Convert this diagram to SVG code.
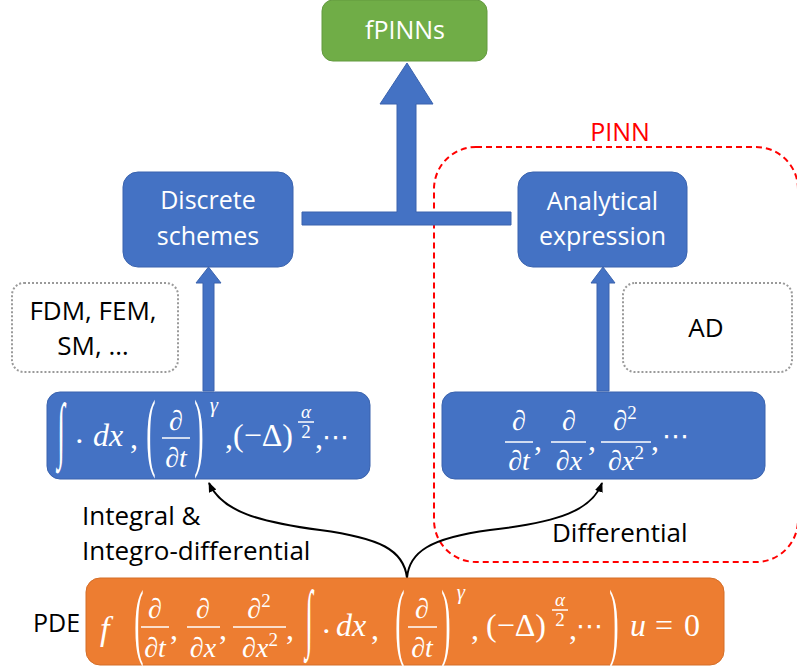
<svg xmlns="http://www.w3.org/2000/svg" width="797" height="671" viewBox="0 0 797 671">
<defs>
<style>
.blue{fill:#4472C4;stroke:#3A63AE;stroke-width:1}
.lbl{font-family:"Open Sans","Liberation Sans",sans-serif;font-size:25px;fill:#fff;text-anchor:middle}
.blk{font-family:"Open Sans","Liberation Sans",sans-serif;font-size:26px;fill:#000}
.dot{fill:#fff;stroke:#9A9A9A;stroke-width:2;stroke-dasharray:2 2}
.m{font-family:"Liberation Serif","DejaVu Serif",serif;fill:#fff;font-size:32px}
.mf{font-family:"Liberation Serif","DejaVu Serif",serif;fill:#fff;font-size:28px;text-anchor:middle}
.ms{font-family:"Liberation Serif","DejaVu Serif",serif;fill:#fff;font-size:19px;text-anchor:middle}
.el{font-family:"DejaVu Sans",sans-serif;fill:#fff;font-size:27px}
.i{font-style:italic}
.fl{stroke:#fff;stroke-width:1.5}
.cur{fill:none;stroke:#000;stroke-width:2}
</style>
<marker id="ah" viewBox="0 0 10 10" refX="9" refY="5" markerWidth="10" markerHeight="10" markerUnits="userSpaceOnUse" orient="auto">
<path d="M0,1 L10,5 L0,9 Z" fill="#000"/>
</marker>
</defs>
<rect width="797" height="671" fill="#fff"/>

<g id="pinn-region">
<rect x="434" y="147" width="364" height="415" rx="42" fill="none" stroke="#FF0000" stroke-width="2" stroke-dasharray="6 4"/>
<text x="620" y="141" class="blk" style="fill:#FF0000;font-size:25px;text-anchor:middle">PINN</text>
</g>

<g id="connectors">
<polygon class="blue" points="302,212 397,212 397,104 380,104 407,63 433,104 416,104 416,212 511,212 511,225 302,225"/>
<polygon class="blue" points="203,391 203,283 196,283 208.5,267 221,283 214,283 214,391"/>
<polygon class="blue" points="597,391 597,283 591,283 603,267 615,283 609,283 609,391"/>
<path class="cur" d="M407,578 C404,550 380,538 320,530 C260,522 222,512 209,483" marker-end="url(#ah)"/>
<path class="cur" d="M407,578 C409,552 430,538 490,530 C560,522 592,510 602,483" marker-end="url(#ah)"/>
</g>

<g id="fpinns">
<rect x="322" y="0" width="165" height="61" rx="11" fill="#70AD47" stroke="#639A3F" stroke-width="1"/>
<text x="405" y="39" class="lbl">fPINNs</text>
</g>

<g id="discrete">
<rect class="blue" x="123" y="172" width="170" height="95" rx="15"/>
<text x="208" y="209" class="lbl">Discrete</text>
<text x="208" y="245" class="lbl">schemes</text>
</g>

<g id="analytical">
<rect class="blue" x="518" y="172" width="169" height="95" rx="15"/>
<text x="602.5" y="210" class="lbl">Analytical</text>
<text x="602.5" y="245" class="lbl">expression</text>
</g>

<g id="methods">
<rect class="dot" x="12" y="283" width="166" height="89" rx="12"/>
<text x="93" y="320" class="blk" text-anchor="middle">FDM, FEM,</text>
<text x="93" y="355" class="blk" text-anchor="middle">SM, …</text>
</g>

<g id="ad">
<rect class="dot" x="623" y="283" width="169" height="89" rx="12"/>
<text x="706" y="337" class="blk" text-anchor="middle">AD</text>
</g>

<g id="nonlocal-ops">
<rect class="blue" x="47" y="392" width="323" height="87" rx="13"/>
<text class="m" transform="translate(61,454) scale(1,2.6)" text-anchor="middle" style="font-size:28px">∫</text>
<text class="m" x="74" y="452">·</text>
<text class="m i" x="93" y="446">dx</text>
<text class="m" x="130" y="448">,</text>
<text class="m" transform="translate(151,460) scale(1,3.1)" text-anchor="middle" style="font-size:28px">(</text>
<text class="mf" x="176" y="430">∂</text>
<line class="fl" x1="162" y1="438" x2="190" y2="438"/>
<text class="mf" x="176" y="467">∂<tspan class="i">t</tspan></text>
<text class="m" transform="translate(199,460) scale(1,3.1)" text-anchor="middle" style="font-size:28px">)</text>
<text class="ms i" x="214" y="412" style="font-size:21px">γ</text>
<text class="m" x="225" y="448">,</text>
<text class="m" x="233" y="446">(−Δ)</text>
<text class="ms i" x="306" y="418">α</text>
<line class="fl" x1="298" y1="422" x2="314" y2="422"/>
<text class="ms" x="306" y="438">2</text>
<text class="m" x="315" y="448">,</text>
<text class="el" x="322" y="446">⋯</text>
</g>

<g id="local-ops">
<rect class="blue" x="442" y="392" width="323" height="87" rx="13"/>
<text class="mf" x="519" y="430">∂</text>
<line class="fl" x1="505" y1="442" x2="533" y2="442"/>
<text class="mf" x="519" y="470">∂<tspan class="i">t</tspan></text>
<text class="m" x="534" y="450">,</text>
<text class="mf" x="569" y="430">∂</text>
<line class="fl" x1="551" y1="442" x2="586" y2="442"/>
<text class="mf" x="569" y="470">∂<tspan class="i">x</tspan></text>
<text class="m" x="588" y="450">,</text>
<text class="mf" x="625" y="430">∂<tspan dy="-11" style="font-size:19px">2</tspan></text>
<line class="fl" x1="601" y1="442" x2="651" y2="442"/>
<text class="mf" x="626" y="470">∂<tspan class="i">x</tspan><tspan dy="-11" style="font-size:19px">2</tspan></text>
<text class="m" x="651" y="450">,</text>
<text class="el" x="662" y="445">⋯</text>
</g>

<g id="labels">
<text x="82" y="525" class="blk">Integral &amp;</text>
<text x="82" y="560" class="blk">Integro-differential</text>
<text x="552" y="542" class="blk">Differential</text>
<text x="33" y="632" class="blk" style="font-size:25px">PDE</text>
</g>

<g id="pde">
<rect x="86" y="578" width="638" height="87" rx="14" fill="#ED7D31" stroke="#D46E28" stroke-width="1"/>
<text class="m i" x="100" y="640" style="font-size:34px">f</text>
<text class="m" transform="translate(139,649) scale(1,3.0)" text-anchor="middle" style="font-size:28px">(</text>
<text class="mf" x="155" y="618">∂</text>
<line class="fl" x1="141" y1="627" x2="169" y2="627"/>
<text class="mf" x="155" y="657">∂<tspan class="i">t</tspan></text>
<text class="m" x="170" y="639">,</text>
<text class="mf" x="203" y="618">∂</text>
<line class="fl" x1="187" y1="627" x2="220" y2="627"/>
<text class="mf" x="203" y="657">∂<tspan class="i">x</tspan></text>
<text class="m" x="219" y="639">,</text>
<text class="mf" x="259" y="618">∂<tspan dy="-11" style="font-size:19px">2</tspan></text>
<line class="fl" x1="233" y1="627" x2="286" y2="627"/>
<text class="mf" x="260" y="657">∂<tspan class="i">x</tspan><tspan dy="-11" style="font-size:19px">2</tspan></text>
<text class="m" x="286" y="639">,</text>
<text class="m" transform="translate(309,643) scale(1,2.7)" text-anchor="middle" style="font-size:28px">∫</text>
<text class="m" x="321" y="642">·</text>
<text class="m i" x="336" y="636">dx</text>
<text class="m" x="371" y="639">,</text>
<text class="m" transform="translate(400,650) scale(1,3.1)" text-anchor="middle" style="font-size:28px">(</text>
<text class="mf" x="422" y="618">∂</text>
<line class="fl" x1="408" y1="627" x2="437" y2="627"/>
<text class="mf" x="422" y="657">∂<tspan class="i">t</tspan></text>
<text class="m" transform="translate(446,650) scale(1,3.1)" text-anchor="middle" style="font-size:28px">)</text>
<text class="ms i" x="461" y="599" style="font-size:21px">γ</text>
<text class="m" x="471" y="639">,</text>
<text class="m" x="486" y="636">(−Δ)</text>
<text class="ms i" x="560" y="606">α</text>
<line class="fl" x1="552" y1="610" x2="568" y2="610"/>
<text class="ms" x="560" y="626">2</text>
<text class="m" x="569" y="639">,</text>
<text class="el" x="576" y="635">⋯</text>
<text class="m" transform="translate(614,650) scale(1,3.1)" text-anchor="middle" style="font-size:28px">)</text>
<text class="m i" x="630" y="636">u</text>
<text class="m" x="655" y="636">=</text>
<text class="m" x="684" y="636">0</text>
</g>
</svg>
